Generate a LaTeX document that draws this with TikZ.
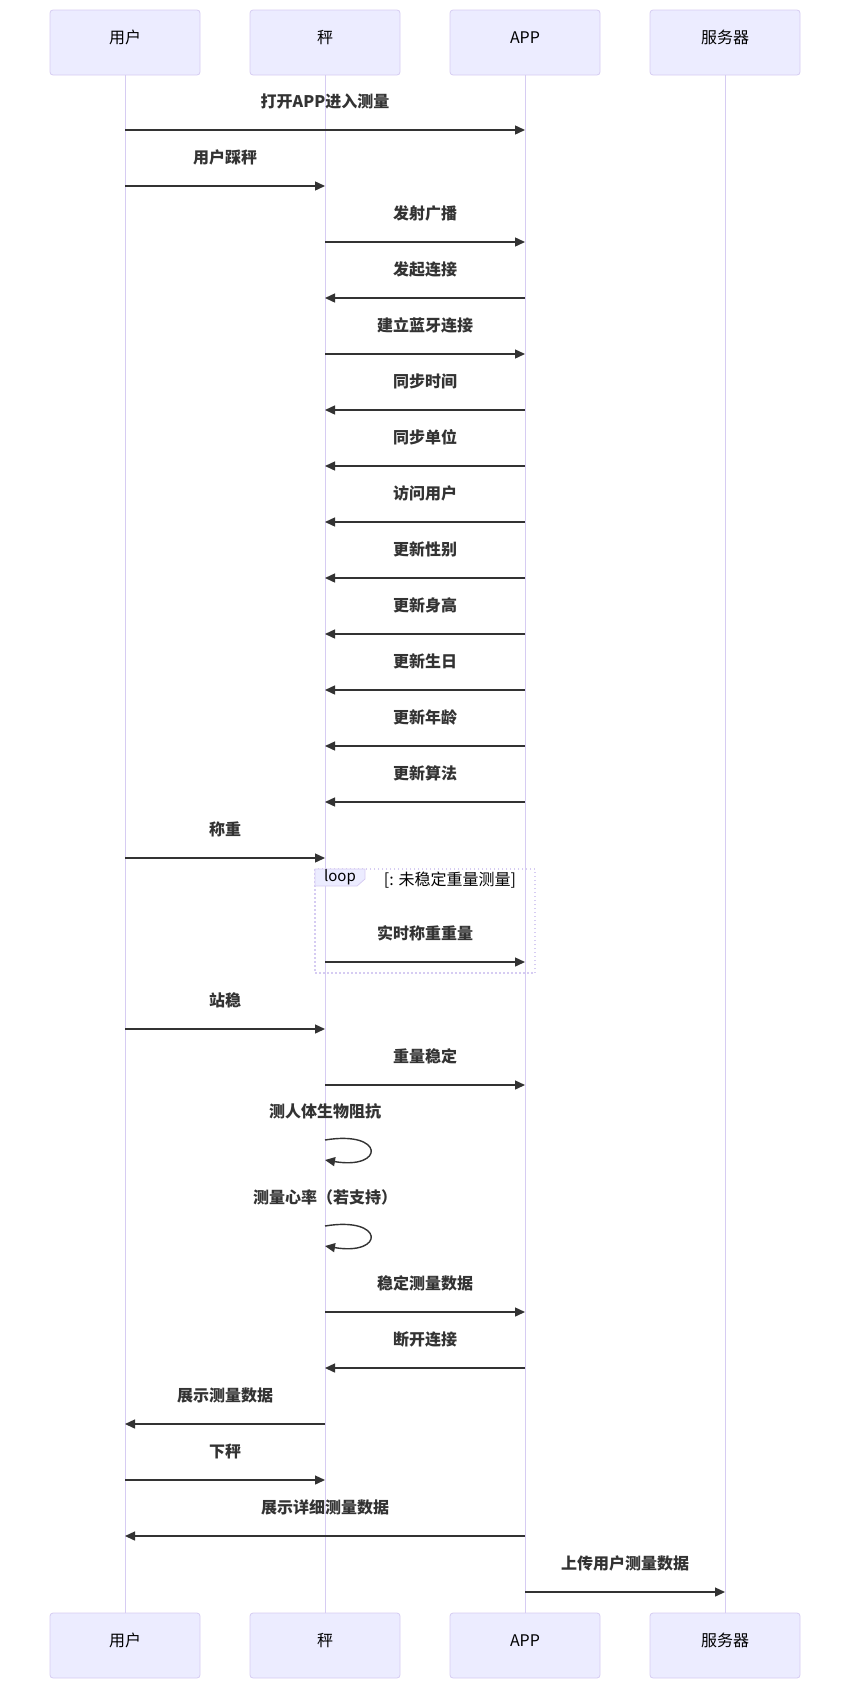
\documentclass[tikz,border=0pt]{standalone}
\usepackage{fontspec}
\setmainfont{Noto Sans CJK SC}
\usepackage{xcolor}
\usepackage{tikz}
\usetikzlibrary{arrows.meta,positioning,calc}
\definecolor{mmfill}{HTML}{ECECFF}
\definecolor{mmline}{HTML}{D6CCF2}
\definecolor{mmtext}{HTML}{333333}
\tikzset{
  actor/.style={draw=mmline, thick, fill=mmfill, rounded corners=3pt, minimum width=150pt, minimum height=65pt, text height=14pt, text depth=12pt, font=\fontsize{16}{19}\selectfont, text=black},
  life/.style={mmline, line width=1pt},
  msg/.style={-{Triangle[length=10pt,width=9pt]}, mmtext, line width=1.4pt},
  lbl/.style={font=\bfseries\fontsize{16}{19}\selectfont, text=mmtext, yshift=29pt},
  loopbox/.style={draw=mmline, line width=1.3pt, dash pattern=on 1.5pt off 2.5pt},
}

\begin{document}
\begin{tikzpicture}[x=1pt, y=-1pt]
  \useasboundingbox (0,0) rectangle (850,1689);
  % actors
  \node[actor] (user) at (125,42.5) {用户};
  \node[actor] (scale) at (325,42.5) {秤};
  \node[actor] (app) at (525,42.5) {APP};
  \node[actor] (srv) at (725,42.5) {服务器};
  \node[actor] (userb) at (125,1645.5) {用户};
  \node[actor] (scaleb) at (325,1645.5) {秤};
  \node[actor] (appb) at (525,1645.5) {APP};
  \node[actor] (srvb) at (725,1645.5) {服务器};
  \draw[life] (user) -- (userb);
  \draw[life] (scale) -- (scaleb);
  \draw[life] (app) -- (appb);
  \draw[life] (srv) -- (srvb);
  % loop frame
  \draw[loopbox] (315,869) rectangle (535,973);
  \draw[mmline, thick, fill=mmfill] (315,869) -- (365,869) -- (365,879) -- (357,886) -- (315,886) -- cycle;
  \node[font=\fontsize{15}{18}\selectfont, text=black] (looptab) at (340,877) {loop};
  \node[font=\fontsize{16}{19}\selectfont, text=black] (loopcond) at (450,880) {[: 未稳定重量测量]};
  % messages
  \coordinate (m1a) at (user |- 0,130); \coordinate (m1b) at (app |- 0,130);
  \draw[msg] (m1a) -- node[lbl] {打开APP进入测量} (m1b);
  \coordinate (m2a) at (user |- 0,186); \coordinate (m2b) at (scale |- 0,186);
  \draw[msg] (m2a) -- node[lbl] {用户踩秤} (m2b);
  \coordinate (m3a) at (scale |- 0,242); \coordinate (m3b) at (app |- 0,242);
  \draw[msg] (m3a) -- node[lbl] {发射广播} (m3b);
  \coordinate (m4a) at (app |- 0,298); \coordinate (m4b) at (scale |- 0,298);
  \draw[msg] (m4a) -- node[lbl] {发起连接} (m4b);
  \coordinate (m5a) at (scale |- 0,354); \coordinate (m5b) at (app |- 0,354);
  \draw[msg] (m5a) -- node[lbl] {建立蓝牙连接} (m5b);
  \coordinate (m6a) at (app |- 0,410); \coordinate (m6b) at (scale |- 0,410);
  \draw[msg] (m6a) -- node[lbl] {同步时间} (m6b);
  \coordinate (m7a) at (app |- 0,466); \coordinate (m7b) at (scale |- 0,466);
  \draw[msg] (m7a) -- node[lbl] {同步单位} (m7b);
  \coordinate (m8a) at (app |- 0,522); \coordinate (m8b) at (scale |- 0,522);
  \draw[msg] (m8a) -- node[lbl] {访问用户} (m8b);
  \coordinate (m9a) at (app |- 0,578); \coordinate (m9b) at (scale |- 0,578);
  \draw[msg] (m9a) -- node[lbl] {更新性别} (m9b);
  \coordinate (m10a) at (app |- 0,634); \coordinate (m10b) at (scale |- 0,634);
  \draw[msg] (m10a) -- node[lbl] {更新身高} (m10b);
  \coordinate (m11a) at (app |- 0,690); \coordinate (m11b) at (scale |- 0,690);
  \draw[msg] (m11a) -- node[lbl] {更新生日} (m11b);
  \coordinate (m12a) at (app |- 0,746); \coordinate (m12b) at (scale |- 0,746);
  \draw[msg] (m12a) -- node[lbl] {更新年龄} (m12b);
  \coordinate (m13a) at (app |- 0,802); \coordinate (m13b) at (scale |- 0,802);
  \draw[msg] (m13a) -- node[lbl] {更新算法} (m13b);
  \coordinate (m14a) at (user |- 0,858); \coordinate (m14b) at (scale |- 0,858);
  \draw[msg] (m14a) -- node[lbl] {称重} (m14b);
  \coordinate (m15a) at (scale |- 0,962); \coordinate (m15b) at (app |- 0,962);
  \draw[msg] (m15a) -- node[lbl] {实时称重重量} (m15b);
  \coordinate (m16a) at (user |- 0,1029); \coordinate (m16b) at (scale |- 0,1029);
  \draw[msg] (m16a) -- node[lbl] {站稳} (m16b);
  \coordinate (m17a) at (scale |- 0,1085); \coordinate (m17b) at (app |- 0,1085);
  \draw[msg] (m17a) -- node[lbl] {重量稳定} (m17b);
  % self messages
  \coordinate (m18a) at (scale |- 0,1140); \coordinate (m18b) at (scale |- 0,1160);
  \node[lbl] (m18t) at (m18a) {测人体生物阻抗};
  \draw[msg] (m18a) .. controls +(60,-10) and +(60,10) .. (m18b);
  \coordinate (m19a) at (scale |- 0,1226); \coordinate (m19b) at (scale |- 0,1246);
  \node[lbl] (m19t) at (m19a) {测量心率（若支持）};
  \draw[msg] (m19a) .. controls +(60,-10) and +(60,10) .. (m19b);
  \coordinate (m20a) at (scale |- 0,1312); \coordinate (m20b) at (app |- 0,1312);
  \draw[msg] (m20a) -- node[lbl] {稳定测量数据} (m20b);
  \coordinate (m21a) at (app |- 0,1368); \coordinate (m21b) at (scale |- 0,1368);
  \draw[msg] (m21a) -- node[lbl] {断开连接} (m21b);
  \coordinate (m22a) at (scale |- 0,1424); \coordinate (m22b) at (user |- 0,1424);
  \draw[msg] (m22a) -- node[lbl] {展示测量数据} (m22b);
  \coordinate (m23a) at (user |- 0,1480); \coordinate (m23b) at (scale |- 0,1480);
  \draw[msg] (m23a) -- node[lbl] {下秤} (m23b);
  \coordinate (m24a) at (app |- 0,1536); \coordinate (m24b) at (user |- 0,1536);
  \draw[msg] (m24a) -- node[lbl] {展示详细测量数据} (m24b);
  \coordinate (m25a) at (app |- 0,1592); \coordinate (m25b) at (srv |- 0,1592);
  \draw[msg] (m25a) -- node[lbl] {上传用户测量数据} (m25b);
\end{tikzpicture}
\end{document}
